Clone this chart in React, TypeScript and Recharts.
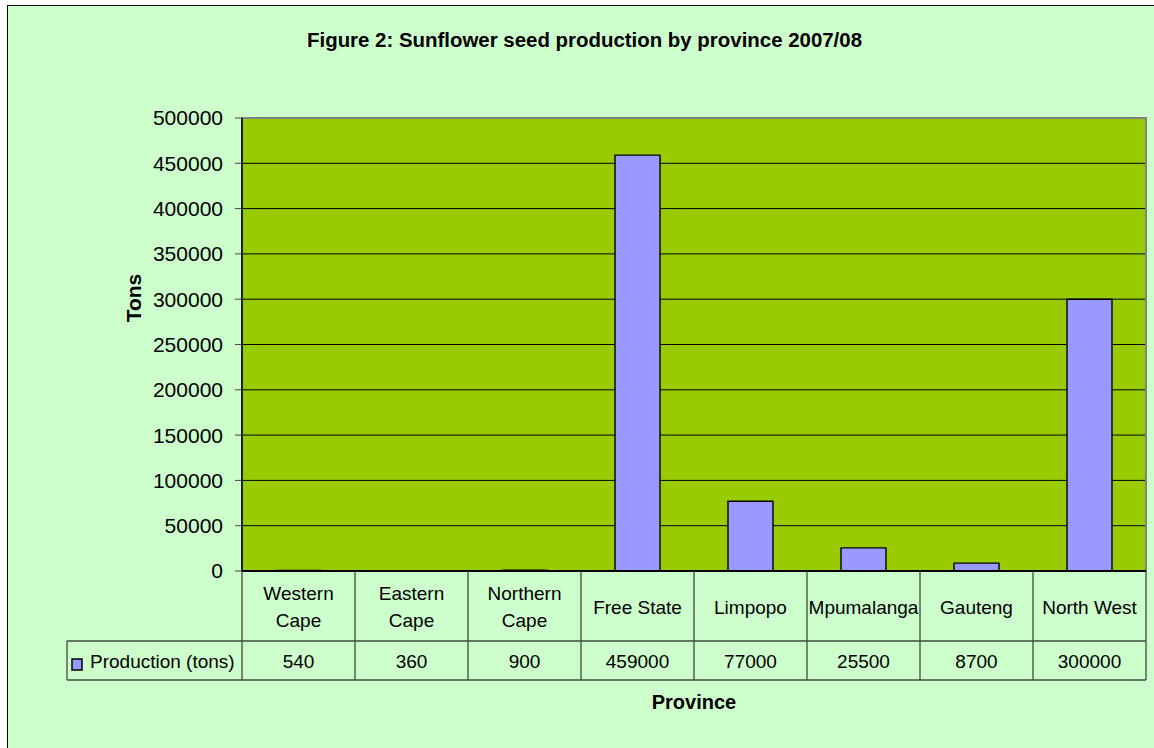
import React from "react";
import { BarChart, Bar, XAxis, YAxis, CartesianGrid, ReferenceArea, Customized } from "recharts";

const categories = [
  "Western\nCape",
  "Eastern\nCape",
  "Northern\nCape",
  "Free State",
  "Limpopo",
  "Mpumalanga",
  "Gauteng",
  "North West",
];
const production = [540, 360, 900, 459000, 77000, 25500, 8700, 300000];
const yTicks = [0, 50000, 100000, 150000, 200000, 250000, 300000, 350000, 400000, 450000, 500000];
const seriesName = "Production (tons)";
const title = "Figure 2: Sunflower seed production by province 2007/08";
const yTitle = "Tons";
const xTitle = "Province";

const data = categories.map((c, i) => ({ province: c, value: production[i] }));

const FONT = "'Liberation Sans', Arial, sans-serif";
const W = 1154;
const H = 748;
const PLOT_LEFT = 242;
const PLOT_RIGHT = 1146;
const PLOT_TOP = 118;
const PLOT_BOTTOM = 571;
const ROW1_BOTTOM = 641;
const ROW2_BOTTOM = 680;
const LEGEND_LEFT = 67;
const BAND = (PLOT_RIGHT - PLOT_LEFT) / categories.length;
const TABLE_LINE = "#3f4a3f";

const TableTick = (props: any) => {
  const { x, payload, index } = props;
  const i = payload?.index ?? index;
  const left = x - BAND / 2;
  const right = x + BAND / 2;
  const label: string = String(payload.value);
  const lines = label.split("\n");
  const lh = 27;
  const midY = (PLOT_BOTTOM + ROW1_BOTTOM) / 2 + 1;
  const firstY = midY - ((lines.length - 1) * lh) / 2;
  return (
    <g>
      <line x1={left} y1={PLOT_BOTTOM} x2={left} y2={ROW2_BOTTOM} stroke={TABLE_LINE} strokeWidth={1.3} />
      {i === categories.length - 1 && (
        <line x1={right} y1={PLOT_BOTTOM} x2={right} y2={ROW2_BOTTOM} stroke={TABLE_LINE} strokeWidth={1.3} />
      )}
      <line x1={left} y1={ROW1_BOTTOM} x2={right} y2={ROW1_BOTTOM} stroke={TABLE_LINE} strokeWidth={1.3} />
      <line x1={left} y1={ROW2_BOTTOM} x2={right} y2={ROW2_BOTTOM} stroke={TABLE_LINE} strokeWidth={1.3} />
      {lines.map((ln, k) => (
        <text
          key={k}
          x={x}
          y={firstY + k * lh}
          textAnchor="middle"
          dominantBaseline="central"
          fontSize={19}
          fontFamily={FONT}
          fill="#000"
        >
          {ln}
        </text>
      ))}
      <text
        x={x}
        y={(ROW1_BOTTOM + ROW2_BOTTOM) / 2 + 1}
        textAnchor="middle"
        dominantBaseline="central"
        fontSize={19}
        fontFamily={FONT}
        fill="#000"
      >
        {production[i]}
      </text>
      {i === 0 && (
        <g>
          <line x1={LEGEND_LEFT} y1={ROW1_BOTTOM} x2={left} y2={ROW1_BOTTOM} stroke={TABLE_LINE} strokeWidth={1.3} />
          <line x1={LEGEND_LEFT} y1={ROW2_BOTTOM} x2={left} y2={ROW2_BOTTOM} stroke={TABLE_LINE} strokeWidth={1.3} />
          <line x1={LEGEND_LEFT} y1={ROW1_BOTTOM} x2={LEGEND_LEFT} y2={ROW2_BOTTOM} stroke={TABLE_LINE} strokeWidth={1.3} />
          <rect x={72} y={659} width={10} height={11} fill="#9999FF" stroke="#000" strokeWidth={1.5} />
          <text
            x={90}
            y={(ROW1_BOTTOM + ROW2_BOTTOM) / 2 + 1}
            dominantBaseline="central"
            fontSize={19}
            fontFamily={FONT}
            fill="#000"
          >
            {seriesName}
          </text>
        </g>
      )}
    </g>
  );
};

const Titles = () => (
  <g>
    <text
      x={584.5}
      y={47}
      textAnchor="middle"
      fontSize={20}
      fontWeight="bold"
      fontFamily={FONT}
      fill="#000"
      textLength={555}
      lengthAdjust="spacingAndGlyphs"
    >
      {title}
    </text>
    <text
      x={133}
      y={298}
      transform="rotate(-90 133 298)"
      textAnchor="middle"
      dominantBaseline="central"
      fontSize={21}
      fontWeight="bold"
      fontFamily={FONT}
      fill="#000"
    >
      {yTitle}
    </text>
    <text
      x={694}
      y={709}
      textAnchor="middle"
      fontSize={20}
      fontWeight="bold"
      fontFamily={FONT}
      fill="#000"
    >
      {xTitle}
    </text>
  </g>
);

export default function App() {
  return (
    <div style={{ position: "fixed", left: 0, top: 0, width: W, height: H, overflow: "hidden", background: "#fff" }}>
      <div
        style={{
          position: "absolute",
          left: 7,
          top: 5,
          width: 1170,
          height: 770,
          border: "1.5px solid #000",
          background: "#CCFFCC",
          boxSizing: "border-box",
        }}
      />
      <div style={{ position: "absolute", left: 0, top: 0 }}>
        <BarChart
          width={W}
          height={H}
          data={data}
          margin={{ top: PLOT_TOP, right: W - PLOT_RIGHT, bottom: H - ROW2_BOTTOM, left: 0 }}
          barSize={45}
        >
          <CartesianGrid vertical={false} horizontal={true} stroke="#000" strokeWidth={1} fill="#99CC00" fillOpacity={1} />
          <ReferenceArea y1={0} y2={500000} fill="none" stroke="#808080" strokeWidth={2} ifOverflow="visible" />
          <Bar dataKey="value" fill="#9999FF" stroke="#000" strokeWidth={1.4} isAnimationActive={false} />
          <XAxis
            dataKey="province"
            height={ROW2_BOTTOM - PLOT_BOTTOM}
            interval={0}
            tickLine={false}
            axisLine={{ stroke: "#000", strokeWidth: 2 }}
            tick={<TableTick />}
          />
          <YAxis
            width={PLOT_LEFT}
            domain={[0, 500000]}
            ticks={yTicks}
            interval={0}
            tickSize={7}
            tickMargin={12}
            tickLine={{ stroke: "#444" }}
            axisLine={{ stroke: "#000", strokeWidth: 1.5 }}
            tick={{ fontSize: 21, fill: "#000", fontFamily: FONT }}
          />
          <Customized component={Titles} />
        </BarChart>
      </div>
    </div>
  );
}
